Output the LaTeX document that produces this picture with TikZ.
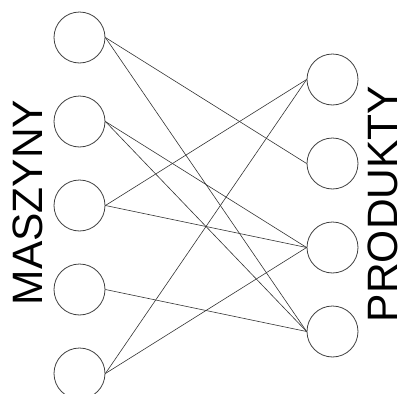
\documentclass[tikz,border=0pt]{standalone}
\usepackage{fontspec}
\setmainfont{Liberation Sans}
\begin{document}
\begin{tikzpicture}[x=1pt,y=-1pt,
  circ/.style={circle,draw=black!75,line width=0.8pt,minimum size=51pt,inner sep=0pt},
  link/.style={draw=black!80,line width=0.6pt},
  lbl/.style={rotate=90,anchor=base,inner sep=0pt,text depth=0pt,font=\fontsize{42.5}{42.5}\selectfont}]
\useasboundingbox (0,0) rectangle (400,394);
\node[circ] (l1) at (79.5,37.5) {};
\node[circ] (l2) at (79.5,121.5) {};
\node[circ] (l3) at (79.5,205.5) {};
\node[circ] (l4) at (79.5,289.5) {};
\node[circ] (l5) at (79.5,373.5) {};
\node[circ] (r1) at (332.5,79.5) {};
\node[circ] (r2) at (332.5,163.5) {};
\node[circ] (r3) at (332.5,247.5) {};
\node[circ] (r4) at (332.5,331.5) {};
\draw[link] (l1.east) -- (r2.west);
\draw[link] (l1.east) -- (r4.west);
\draw[link] (l2.east) -- (r3.west);
\draw[link] (l2.east) -- (r4.west);
\draw[link] (l3.east) -- (r1.west);
\draw[link] (l3.east) -- (r3.west);
\draw[link] (l4.east) -- (r4.west);
\draw[link] (l5.east) -- (r1.west);
\draw[link] (l5.east) -- (r3.west);
\node[lbl] (m) at (42.5,202.5) {MASZYNY};
\node[lbl] (p) at (397,204) {PRODUKTY};
\end{tikzpicture}
\end{document}
